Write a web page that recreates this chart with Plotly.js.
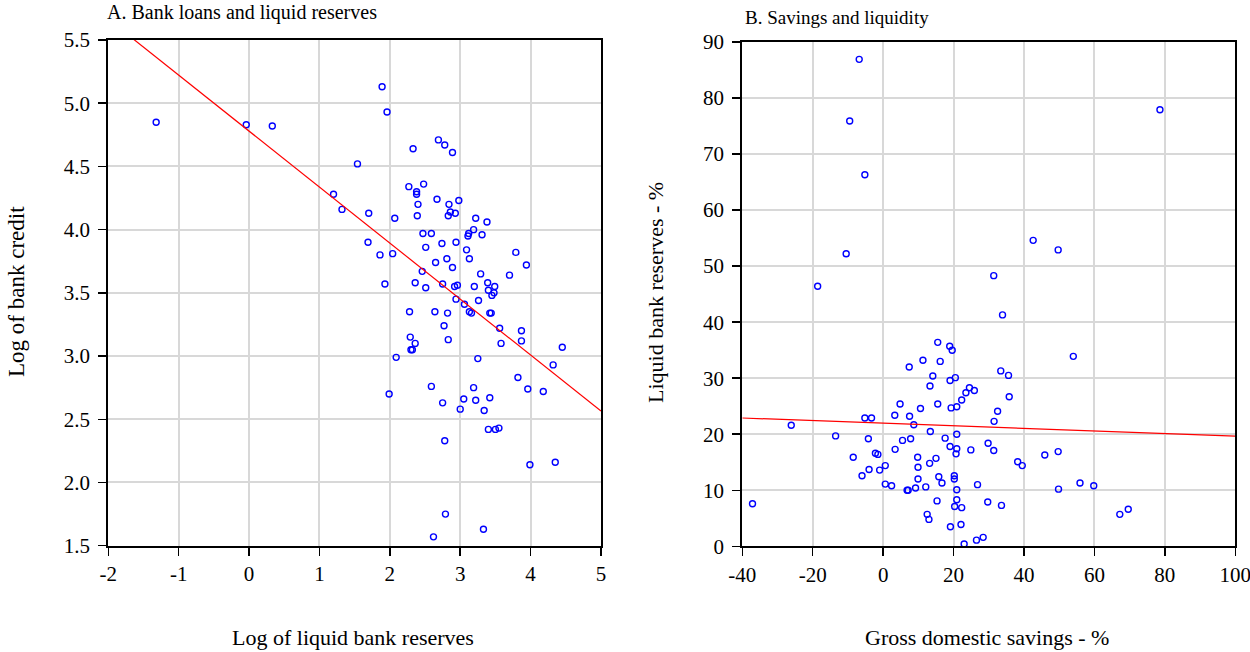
<!DOCTYPE html>
<html>
<head>
<meta charset="utf-8">
<script src="https://cdn.plot.ly/plotly-3.0.1.min.js"></script>
<style>html,body{margin:0;padding:0;background:#fff;}#chart{width:1250px;height:652px;}</style>
</head>
<body>
<div id="chart"></div>
<script>
// Panel A: Log of liquid bank reserves (x) vs Log of bank credit (y)
const reservesA = [-1.32,-0.04,0.33,1.54,1.20,1.32,
 1.89,1.96,2.69,2.78,2.89,2.33,
 2.27,2.48,2.38,2.38,2.40,2.67,2.84,2.98,
 2.39,2.86,2.93,2.83,
 1.70,2.07,3.22,3.38,3.19,3.12,3.11,3.31,
 2.47,2.59,2.74,2.94,2.51,1.69,1.86,2.04,
 3.09,3.13,3.79,2.81,2.65,2.89,3.94,
 2.46,3.29,3.70,2.36,1.93,2.51,2.75,2.92,2.96,3.20,3.39,3.49,3.40,3.48,3.45,2.94,3.26,
 3.06,3.13,3.16,3.42,3.44,2.28,2.64,2.82,2.77,3.56,3.87,
 2.29,2.36,2.30,2.32,2.83,3.58,3.87,4.45,
 2.09,3.25,4.32,3.82,3.96,4.18,2.59,3.19,3.42,1.99,2.75,3.05,3.22,3.00,3.34,
 3.40,3.50,3.55,2.78,3.99,4.35,2.79,3.33,2.62];
const creditA = [4.85,4.83,4.82,4.52,4.28,4.16,
 5.13,4.93,4.71,4.67,4.61,4.64,
 4.34,4.36,4.30,4.28,4.20,4.24,4.20,4.23,
 4.11,4.14,4.13,4.11,
 4.13,4.09,4.09,4.06,4.00,3.97,3.95,3.96,
 3.97,3.97,3.89,3.90,3.86,3.90,3.80,3.81,
 3.84,3.77,3.82,3.77,3.74,3.70,3.72,
 3.67,3.65,3.64,3.58,3.57,3.54,3.57,3.55,3.56,3.55,3.58,3.55,3.52,3.50,3.48,3.45,3.44,
 3.41,3.35,3.34,3.34,3.34,3.35,3.35,3.34,3.24,3.22,3.20,
 3.15,3.10,3.05,3.05,3.13,3.10,3.12,3.07,
 2.99,2.98,2.93,2.83,2.74,2.72,2.76,2.75,2.67,2.70,2.63,2.66,2.65,2.58,2.57,
 2.42,2.42,2.43,2.33,2.14,2.16,1.75,1.63,1.57];
const fitA_x = [-2, 5];
const fitA_y = [5.665, 2.565];
const ticksA_x = [-2, -1, 0, 1, 2, 3, 4, 5];
const labelsA_x = ['-2', '-1', '0', '1', '2', '3', '4', '5'];
const ticksA_y = [1.5, 2.0, 2.5, 3.0, 3.5, 4.0, 4.5, 5.0, 5.5];
const labelsA_y = ['1.5', '2.0', '2.5', '3.0', '3.5', '4.0', '4.5', '5.0', '5.5'];

// Panel B: Gross domestic savings % (x) vs Liquid bank reserves % (y)
const savingsB = [-6.8,78.6,-9.5,-5.2,-10.5,42.6,49.7,-18.6,31.4,33.9,15.5,18.9,19.6,
 54.0,11.3,16.2,7.4,33.4,35.6,14.1,19.0,20.5,13.3,24.5,23.5,25.9,35.8,22.3,15.5,4.8,10.6,19.3,20.9,32.5,
 -5.2,-3.3,3.3,7.5,8.7,31.5,-26.1,-13.5,-4.2,5.5,7.8,13.4,17.6,20.9,
 19.0,20.9,20.7,24.9,29.8,31.4,3.4,-2.2,-1.5,-8.5,9.8,15.0,13.2,0.6,-4.0,-1.0,9.9,38.2,39.5,45.9,49.7,
 -6.0,9.9,15.8,20.2,20.2,16.7,0.6,2.4,6.8,7.1,9.2,12.1,26.8,20.9,49.8,55.9,59.8,
 -37.1,15.3,20.9,20.3,22.3,29.7,33.6,12.5,13.0,19.1,22.1,67.2,69.6,23.0,26.5,28.4];
const liquidB = [86.9,77.9,75.9,66.3,52.2,54.6,52.9,46.4,48.3,41.3,36.4,35.7,35.0,
 33.9,33.2,33.0,32.0,31.3,30.5,30.4,29.6,30.1,28.6,28.3,27.4,27.8,26.7,26.1,25.4,25.4,24.6,24.7,24.9,24.1,
 22.9,22.9,23.4,23.2,21.7,22.3,21.6,19.7,19.2,18.9,19.2,20.5,19.3,20.0,
 17.8,17.4,16.5,17.2,18.4,17.1,17.3,16.6,16.4,15.9,15.9,15.7,14.8,14.4,13.7,13.6,14.1,15.1,14.4,16.3,16.9,
 12.6,12.0,12.4,12.6,12.0,11.3,11.1,10.8,10.0,10.0,10.4,10.6,11.0,10.1,10.2,11.3,10.8,
 7.6,8.1,8.3,7.1,6.9,7.9,7.3,5.7,4.8,3.5,3.9,5.7,6.6,0.4,1.1,1.6];
const fitB_x = [-40, 100];
const fitB_y = [22.9, 19.65];
const ticksB_x = [-40, -20, 0, 20, 40, 60, 80, 100];
const labelsB_x = ['-40', '-20', '0', '20', '40', '60', '80', '100'];
const ticksB_y = [0, 10, 20, 30, 40, 50, 60, 70, 80, 90];
const labelsB_y = ['0', '10', '20', '30', '40', '50', '60', '70', '80', '90'];

const W = 1250, H = 652;
const FONT = 'Liberation Serif';
const px = v => v / W;
const py = v => 1 - v / H;

const marker = {symbol: 'circle-open', size: 6, color: '#0000ff', line: {width: 1.4, color: '#0000ff'}};

const traces = [
  {x: reservesA, y: creditA, xaxis: 'x', yaxis: 'y', type: 'scatter', mode: 'markers', marker: marker, cliponaxis: false},
  {x: fitA_x, y: fitA_y, xaxis: 'x', yaxis: 'y', type: 'scatter', mode: 'lines', line: {color: '#ff0000', width: 1.2}},
  {x: savingsB, y: liquidB, xaxis: 'x2', yaxis: 'y2', type: 'scatter', mode: 'markers', marker: marker, cliponaxis: false},
  {x: fitB_x, y: fitB_y, xaxis: 'x2', yaxis: 'y2', type: 'scatter', mode: 'lines', line: {color: '#ff0000', width: 1.2}}
];

function axis(extra) {
  return Object.assign({
    showgrid: true, gridcolor: '#d8d8d8', gridwidth: 2,
    zeroline: false, showline: true, linecolor: '#000', linewidth: 2, mirror: true,
    ticks: 'outside', ticklen: 8, tickwidth: 1.5, tickcolor: '#000',
    tickmode: 'array', ticklabeloverflow: 'allow',
    tickfont: {family: FONT, size: 21, color: '#000'},
    fixedrange: true
  }, extra);
}

const layout = {
  width: W, height: H,
  margin: {l: 0, r: 0, t: 0, b: 0},
  paper_bgcolor: '#fff', plot_bgcolor: '#fff',
  showlegend: false,
  font: {family: FONT, color: '#000', size: 21},
  xaxis: axis({domain: [px(108.3), px(601)], range: [-2, 5], tickvals: ticksA_x, ticktext: labelsA_x, anchor: 'y'}),
  yaxis: axis({domain: [py(545.7), py(40)], range: [1.5, 5.5], tickvals: ticksA_y, ticktext: labelsA_y, ticklabelstandoff: 4, anchor: 'x'}),
  xaxis2: axis({domain: [px(742.3), px(1235.3)], range: [-40, 100], tickvals: ticksB_x, ticktext: labelsB_x, anchor: 'y2'}),
  yaxis2: axis({domain: [py(546.3), py(42)], range: [0, 90], tickvals: ticksB_y, ticktext: labelsB_y, ticklabelstandoff: 4, anchor: 'x2'}),
  annotations: [
    {text: 'A. Bank loans and liquid reserves', xref: 'paper', yref: 'paper', x: px(105), y: py(12), xanchor: 'left', yanchor: 'middle', showarrow: false, font: {family: FONT, size: 20, color: '#000'}},
    {text: 'B. Savings and liquidity', xref: 'paper', yref: 'paper', x: px(743), y: py(18), xanchor: 'left', yanchor: 'middle', showarrow: false, font: {family: FONT, size: 19, color: '#000'}},
    {text: 'Log of liquid bank reserves', xref: 'paper', yref: 'paper', x: px(353), y: py(637), xanchor: 'center', yanchor: 'middle', showarrow: false, font: {family: FONT, size: 22, color: '#000'}},
    {text: 'Gross domestic savings - %', xref: 'paper', yref: 'paper', x: px(987), y: py(637), xanchor: 'center', yanchor: 'middle', showarrow: false, font: {family: FONT, size: 22, color: '#000'}},
    {text: 'Log of bank credit', xref: 'paper', yref: 'paper', x: px(16), y: py(292), xanchor: 'center', yanchor: 'middle', textangle: -90, showarrow: false, font: {family: FONT, size: 23, color: '#000'}},
    {text: 'Liquid bank reserves - %', xref: 'paper', yref: 'paper', x: px(655), y: py(293), xanchor: 'center', yanchor: 'middle', textangle: -90, showarrow: false, font: {family: FONT, size: 22, color: '#000'}}
  ]
};

Plotly.newPlot('chart', traces, layout, {displayModeBar: false, staticPlot: true});
</script>
</body>
</html>
